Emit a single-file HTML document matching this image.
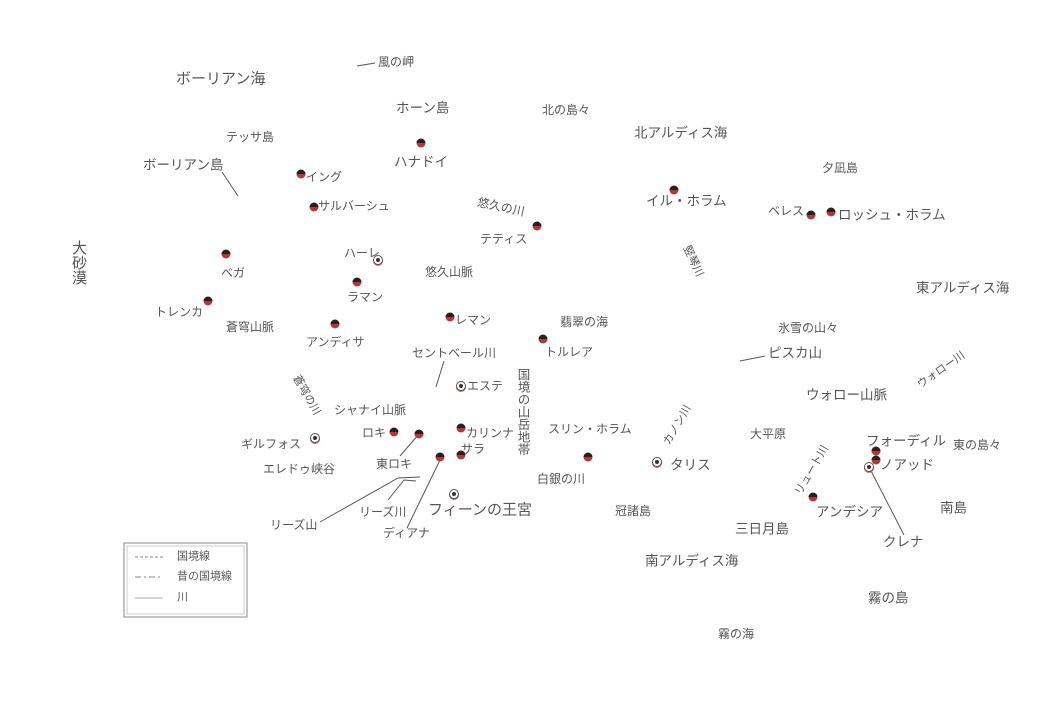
<!DOCTYPE html>
<html><head><meta charset="utf-8"><style>
body{margin:0;width:1051px;height:707px;background:#fff;position:relative;overflow:hidden;font-family:"Liberation Sans","Noto Sans CJK JP",sans-serif;color:#555}
.t{position:absolute;font-size:12px;white-space:nowrap;line-height:1;transform:translateY(-50%)}
.m{font-size:13.5px}
.l{font-size:15px}
.d{position:absolute;width:9px;height:9px;border-radius:50%;background:linear-gradient(#222 50%,#b33 50%);transform:translate(-50%,-50%)}
.g{position:absolute;width:8px;height:8px;border-radius:50%;border:1.5px solid #555;background:#fff;transform:translate(-50%,-50%);box-shadow:0 1px 0 #c66}
.g:after{content:"";position:absolute;left:2px;top:2px;width:4px;height:4px;border-radius:50%;background:#333}
.v{writing-mode:vertical-rl;transform:none}
</style></head><body>
<svg width="1051" height="707" style="position:absolute;left:0;top:0" stroke="#555" stroke-width="1" fill="none">
<line x1="357" y1="66" x2="375" y2="63"/>
<line x1="222" y1="172" x2="238" y2="196"/>
<line x1="436" y1="387" x2="444" y2="361"/>
<line x1="740" y1="361" x2="765" y2="356"/>
<line x1="419" y1="434" x2="400" y2="456"/>
<line x1="440" y1="460" x2="407" y2="528"/>
<line x1="869" y1="467" x2="904" y2="535"/>
<polyline points="320,522 398,478 420,477"/>
<polyline points="388,500 404,480 416,481"/>
<rect x="124" y="543" width="123" height="74" stroke="#888"/>
<rect x="127" y="546" width="117" height="68" stroke="#aaa" stroke-width="0.6"/>
<line x1="135" y1="557" x2="163" y2="557" stroke-dasharray="3,2" stroke="#888"/>
<line x1="135" y1="577" x2="163" y2="577" stroke-dasharray="6,3,2,3" stroke="#888"/>
<line x1="135" y1="598" x2="163" y2="598" stroke="#aaa"/>
</svg>
<div class="t l" style="left:176px;top:79px">ボーリアン海</div>
<div class="t" style="left:378px;top:62px">風の岬</div>
<div class="t m" style="left:396px;top:108px">ホーン島</div>
<div class="t" style="left:542px;top:110px">北の島々</div>
<div class="t" style="left:226px;top:137px">テッサ島</div>
<div class="t m" style="left:634px;top:133px">北アルディス海</div>
<div class="t m" style="left:143px;top:165px">ボーリアン島</div>
<div class="t m" style="left:394px;top:162px">ハナドイ</div><div class="d" style="left:421px;top:143px"></div>
<div class="d" style="left:301px;top:174px"></div><div class="t" style="left:306px;top:177px">イング</div>
<div class="d" style="left:314px;top:207px"></div><div class="t" style="left:318px;top:206px">サルバーシュ</div>
<div class="t" style="left:477px;top:207px;transform:translateY(-50%) rotate(12deg)">悠久の川</div>
<div class="t" style="left:480px;top:239px">テティス</div><div class="d" style="left:537px;top:226px"></div>
<div class="t m" style="left:646px;top:201px">イル・ホラム</div><div class="d" style="left:674px;top:190px"></div>
<div class="t" style="left:822px;top:168px">夕凪島</div>
<div class="t" style="left:768px;top:211px">ベレス</div><div class="d" style="left:811px;top:215px"></div>
<div class="t m" style="left:838px;top:215px">ロッシュ・ホラム</div><div class="d" style="left:831px;top:212px"></div>
<div class="t" style="left:676px;top:256px;font-size:11px;transform:rotate(65deg)">竪琴川</div>
<div class="t l v" style="left:71px;top:240px">大砂漠</div>
<div class="t" style="left:344px;top:253px">ハーレ</div><div class="g" style="left:378px;top:260px"></div>
<div class="t" style="left:221px;top:273px">ベガ</div><div class="d" style="left:226px;top:254px"></div>
<div class="t" style="left:425px;top:272px">悠久山脈</div>
<div class="t" style="left:347px;top:297px">ラマン</div><div class="d" style="left:357px;top:282px"></div>
<div class="t m" style="left:916px;top:288px">東アルディス海</div>
<div class="t" style="left:155px;top:312px">トレンカ</div><div class="d" style="left:208px;top:301px"></div>
<div class="t" style="left:226px;top:327px">蒼穹山脈</div>
<div class="t" style="left:455px;top:320px">レマン</div><div class="d" style="left:450px;top:317px"></div>
<div class="t" style="left:560px;top:322px">翡翠の海</div>
<div class="t" style="left:778px;top:328px">氷雪の山々</div>
<div class="t" style="left:306px;top:342px">アンディサ</div><div class="d" style="left:335px;top:324px"></div>
<div class="t" style="left:545px;top:352px">トルレア</div><div class="d" style="left:543px;top:339px"></div>
<div class="t" style="left:412px;top:353px">セントベール川</div>
<div class="t m" style="left:768px;top:353px">ピスカ山</div>
<div class="t v" style="left:516px;top:368px;font-size:12.5px">国境の山岳地帯</div>
<div class="t" style="left:914px;top:365px;font-size:11px;transform:rotate(-35deg)">ウォロー川</div>
<div class="t" style="left:467px;top:386px">エステ</div><div class="g" style="left:461px;top:386px"></div>
<div class="t" style="left:284px;top:390px;font-size:11px;transform:rotate(60deg)">蒼穹の川</div>
<div class="t m" style="left:806px;top:395px">ウォロー山脈</div>
<div class="t" style="left:334px;top:410px">シャナイ山脈</div>
<div class="t" style="left:466px;top:433px">カリンナ</div><div class="d" style="left:461px;top:428px"></div>
<div class="t" style="left:548px;top:429px">スリン・ホラム</div><div class="d" style="left:588px;top:457px"></div>
<div class="t" style="left:656px;top:420px;font-size:11px;transform:rotate(-60deg)">カノン川</div>
<div class="t" style="left:750px;top:434px">大平原</div>
<div class="t m" style="left:866px;top:441px">フォーディル</div><div class="d" style="left:876px;top:451px"></div><div class="d" style="left:876px;top:460px"></div>
<div class="t" style="left:953px;top:445px">東の島々</div>
<div class="t" style="left:241px;top:444px">ギルフォス</div><div class="g" style="left:315px;top:438px"></div>
<div class="t" style="left:362px;top:433px">ロキ</div><div class="d" style="left:394px;top:432px"></div>
<div class="t" style="left:376px;top:464px">東ロキ</div><div class="d" style="left:419px;top:434px"></div>
<div class="t" style="left:461px;top:449px">サラ</div><div class="d" style="left:461px;top:455px"></div>
<div class="t m" style="left:670px;top:465px">タリス</div><div class="g" style="left:657px;top:462px"></div>
<div class="t m" style="left:880px;top:465px">ノアッド</div><div class="g" style="left:869px;top:467px"></div>
<div class="t" style="left:785px;top:465px;font-size:11px;transform:rotate(-60deg)">リュート川</div>
<div class="t" style="left:263px;top:469px">エレドゥ峡谷</div>
<div class="t" style="left:537px;top:479px">白銀の川</div>
<div class="t l" style="left:428px;top:510px">フィーンの王宮</div><div class="g" style="left:454px;top:494px"></div>
<div class="t" style="left:615px;top:511px">冠諸島</div>
<div class="t m" style="left:816px;top:512px">アンデシア</div><div class="d" style="left:813px;top:497px"></div>
<div class="t m" style="left:940px;top:508px">南島</div>
<div class="t" style="left:270px;top:525px">リーズ山</div>
<div class="t" style="left:359px;top:512px">リーズ川</div>
<div class="t m" style="left:735px;top:529px">三日月島</div>
<div class="t m" style="left:883px;top:542px">クレナ</div>
<div class="t" style="left:383px;top:533px">ディアナ</div><div class="d" style="left:440px;top:457px"></div>
<div class="t m" style="left:645px;top:561px">南アルディス海</div>
<div class="t m" style="left:868px;top:598px">霧の島</div>
<div class="t" style="left:718px;top:634px">霧の海</div>
<div class="t" style="left:177px;top:557px;font-size:11px">国境線</div>
<div class="t" style="left:177px;top:577px;font-size:11px">昔の国境線</div>
<div class="t" style="left:177px;top:598px;font-size:11px">川</div>
</body></html>
